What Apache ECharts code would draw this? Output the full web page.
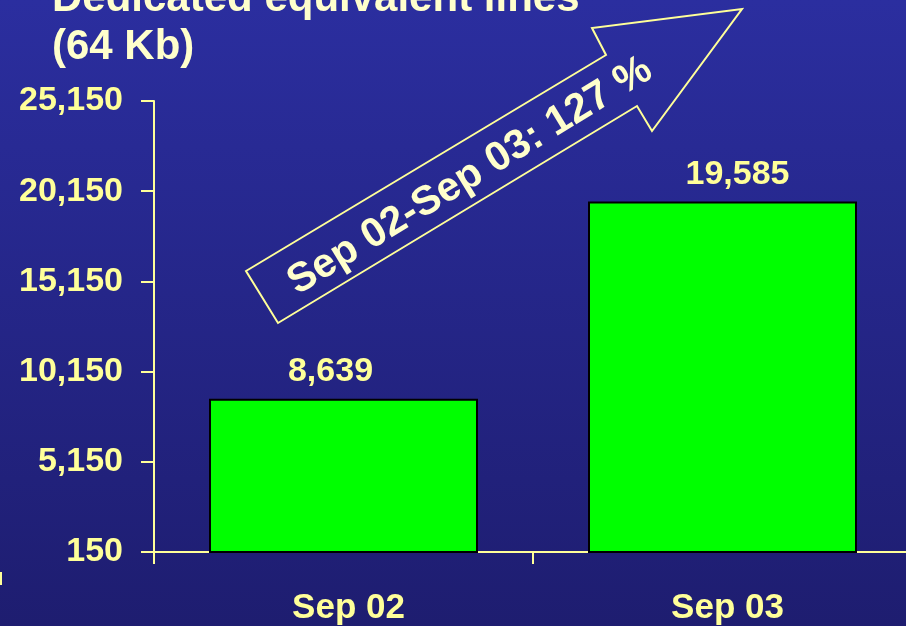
<!DOCTYPE html>
<html>
<head>
<meta charset="utf-8">
<script src="https://cdn.jsdelivr.net/npm/echarts@6/dist/echarts.min.js"></script>
<style>
  html, body { margin: 0; padding: 0; }
  #chart { width: 906px; height: 626px; }
</style>
</head>
<body>
<div id="chart"></div>
<script>
// Dedicated equivalent lines (64 Kb), year over year
const categories = ['Sep 02', 'Sep 03'];
const lines = [8639, 19585];
const yTicks = [150, 5150, 10150, 15150, 20150, 25150];
const growthText = 'Sep 02-Sep 03: 127 %';

const FONT = '"Liberation Sans", Arial, sans-serif';
const YELLOW = '#ffff99';
const PALE = '#ffffcc';
const labelShift = [[-13, 0], [15, 0]];

const fmt = v => Number(v).toLocaleString('en-US');

const chart = echarts.init(document.getElementById('chart'), null, { renderer: 'canvas' });

chart.setOption({
  animation: false,
  backgroundColor: {
    type: 'linear', x: 0, y: 0, x2: 0, y2: 1,
    colorStops: [
      { offset: 0, color: '#2b2e9f' },
      { offset: 1, color: '#1e1d70' }
    ]
  },
  title: {
    text: 'Dedicated equivalent lines\n(64 Kb)',
    left: 52,
    top: -25,
    padding: 0,
    textStyle: {
      color: PALE,
      fontFamily: FONT,
      fontWeight: 'bold',
      fontSize: 42,
      lineHeight: 48
    }
  },
  grid: { left: 154, top: 101, width: 758, height: 451, outerBoundsMode: 'none', containLabel: false },
  xAxis: {
    type: 'category',
    data: categories,
    boundaryGap: true,
    axisLine: { lineStyle: { color: YELLOW, width: 2 } },
    axisTick: { show: true, interval: 0, length: 12, lineStyle: { color: YELLOW, width: 2 } },
    axisLabel: {
      color: YELLOW,
      fontFamily: FONT,
      fontWeight: 'bold',
      fontSize: 35,
      margin: 39,
      padding: [0, 0, 0, 10]
    }
  },
  yAxis: {
    type: 'value',
    min: yTicks[0],
    max: yTicks[yTicks.length - 1],
    splitLine: { show: false },
    axisLine: { show: true, lineStyle: { color: YELLOW, width: 2 } },
    axisTick: { show: true, length: 13, customValues: yTicks, lineStyle: { color: YELLOW, width: 2 } },
    axisLabel: {
      customValues: yTicks,
      color: YELLOW,
      fontFamily: FONT,
      fontWeight: 'bold',
      fontSize: 34,
      margin: 31,
      formatter: v => fmt(v)
    }
  },
  series: [{
    type: 'bar',
    barWidth: 269,
    data: lines.map((v, i) => ({
      value: v,
      label: { offset: labelShift[i] }
    })),
    itemStyle: { color: '#00ff00', borderColor: '#000000', borderWidth: 2 },
    label: {
      show: true,
      position: 'top',
      distance: 10,
      color: YELLOW,
      fontFamily: FONT,
      fontWeight: 'bold',
      fontSize: 34,
      formatter: p => fmt(p.value)
    }
  }],
  graphic: [
    {
      type: 'polygon',
      shape: {
        points: [
          [246, 271], [606, 55], [592, 28], [742, 9],
          [652, 131], [637, 106], [278, 323]
        ]
      },
      style: { fill: 'none', stroke: YELLOW, lineWidth: 2 },
      z: 10
    },
    {
      type: 'text',
      x: 470,
      y: 176,
      rotation: 31.5 * Math.PI / 180,
      style: {
        text: growthText,
        fill: PALE,
        font: 'bold 41px ' + FONT,
        textAlign: 'center',
        textVerticalAlign: 'middle'
      },
      z: 11
    },
    {
      type: 'line',
      shape: { x1: 1, y1: 572, x2: 1, y2: 585 },
      style: { stroke: YELLOW, lineWidth: 2 }
    }
  ]
});
</script>
</body>
</html>
